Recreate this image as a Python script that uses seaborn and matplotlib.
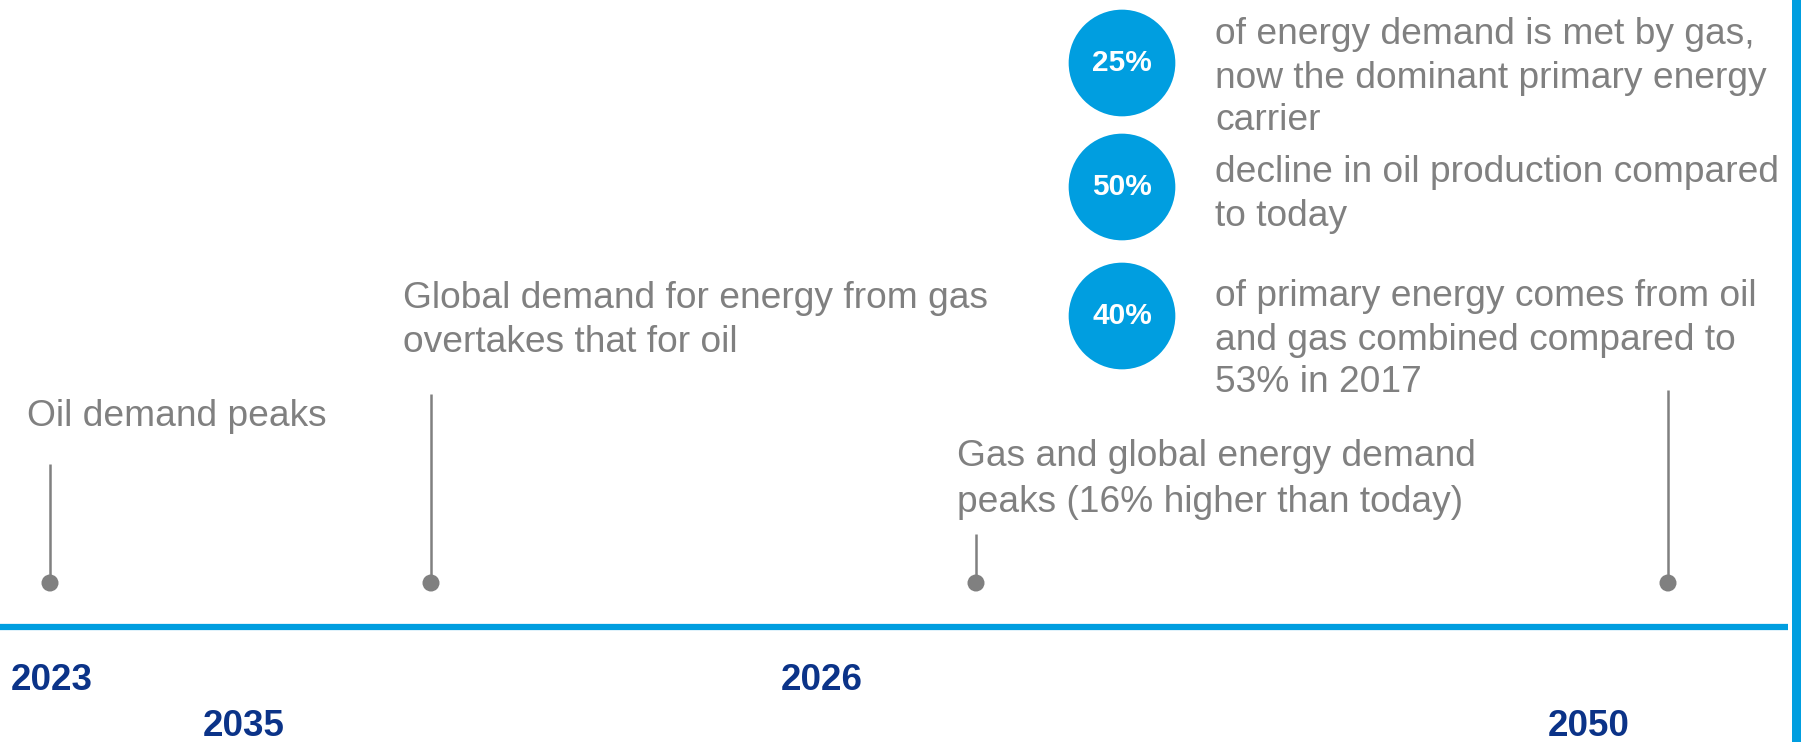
import matplotlib
matplotlib.use("Agg")
import matplotlib.pyplot as plt
import seaborn as sns
import pandas as pd

# ---- data ----
years = ["2023", "2035", "2026", "2050"]
event_labels = [
    ["Oil demand peaks"],
    ["Global demand for energy from gas", "overtakes that for oil"],
    ["Gas and global energy demand", "peaks (16% higher than today)"],
    [],
]
stat_values = ["25%", "50%", "40%"]
stat_texts = [
    ["of energy demand is met by gas,", "now the dominant primary energy", "carrier"],
    ["decline in oil production compared", "to today"],
    ["of primary energy comes from oil", "and gas combined compared to", "53% in 2017"],
]

# ---- layout (pixel space) ----
W, H = 1801, 742
stem_x = [50, 431, 976, 1668]
stem_top = [464, 394, 534, 390]
dot_y = 583
line_y = 627
year_x = [11, 203, 781, 1548]
year_y = [681, 727, 681, 727]
label_x = [27, 403, 957, None]
label_y = [[417], [299, 342], [457, 502], []]
circle_x = 1122
circle_y = [63, 187, 316]
stat_x = 1215
stat_line_y = [[35, 78, 121], [173, 216], [296, 340, 383]]

BLUE = "#009EE0"
NAVY = "#0B3388"
GRAY = "#808080"

sns.set_theme(style="white")
plt.rcParams["font.family"] = ["Liberation Sans", "DejaVu Sans"]

fig = plt.figure(figsize=(W / 100, H / 100), dpi=100)
ax = fig.add_axes([0, 0, 1, 1])
ax.set_xlim(0, W)
ax.set_ylim(H, 0)
ax.axis("off")

# timeline line and right bar
ax.plot([0, 1788], [line_y, line_y], color=BLUE, lw=4.5, solid_capstyle="butt")
ax.axvspan(1792, W, color=BLUE, lw=0)

# stems + dots
ev = pd.DataFrame({"x": stem_x, "top": stem_top, "y": [dot_y] * 4})
ax.vlines(ev["x"], ev["top"], ev["y"], color=GRAY, lw=1.8)
sns.scatterplot(data=ev, x="x", y="y", ax=ax, color=GRAY, s=150,
                edgecolor="none", legend=False)

# year labels
for yr, x, y in zip(years, year_x, year_y):
    ax.text(x, y, yr, color=NAVY, fontsize=26.5, fontweight="bold",
            ha="left", va="center")

# event labels
for lines, x, ys in zip(event_labels, label_x, label_y):
    for t, y in zip(lines, ys):
        ax.text(x, y, t, color=GRAY, fontsize=26.7, ha="left", va="center")

# stat circles
st = pd.DataFrame({"x": [circle_x] * 3, "y": circle_y, "v": stat_values})
sns.scatterplot(data=st, x="x", y="y", ax=ax, color=BLUE, s=5900,
                edgecolor="none", legend=False)
for v, y in zip(stat_values, circle_y):
    ax.text(circle_x, y, v, color="white", fontsize=21.5, fontweight="bold",
            ha="center", va="center")
for lines, ys in zip(stat_texts, stat_line_y):
    for t, y in zip(lines, ys):
        ax.text(stat_x, y, t, color=GRAY, fontsize=26.7, ha="left", va="center")

ax.set_xlim(0, W)
ax.set_ylim(H, 0)
fig.savefig("out.png", dpi=100, facecolor="white")
